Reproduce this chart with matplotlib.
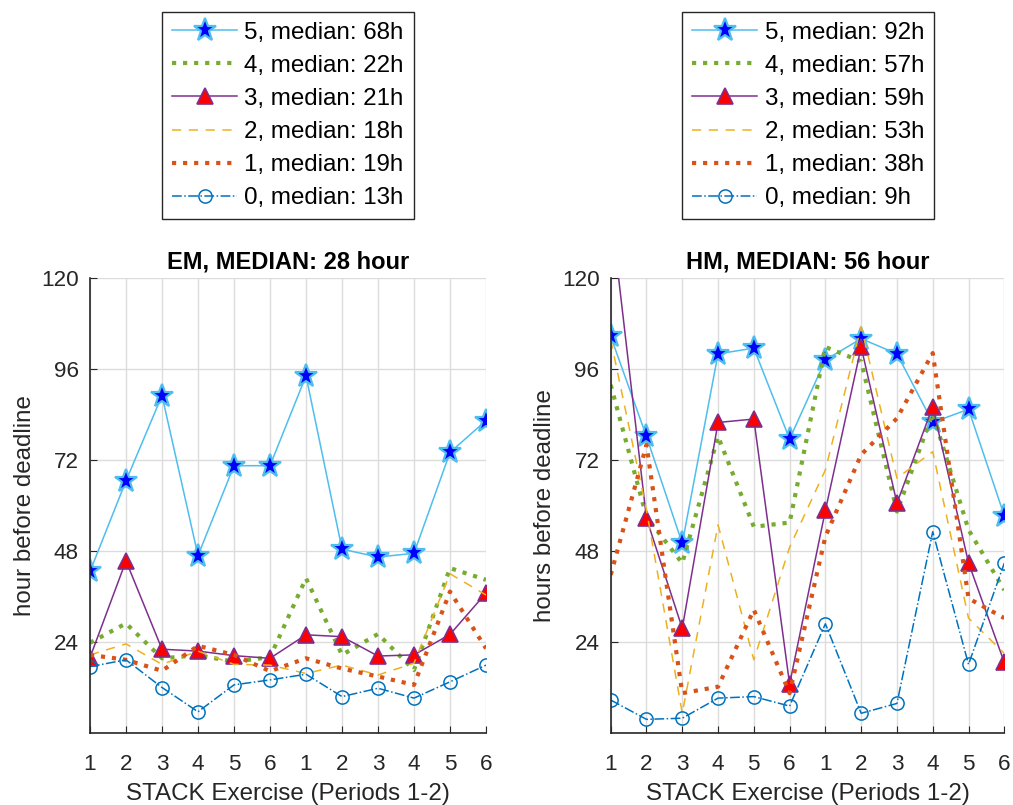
import matplotlib
matplotlib.use("Agg")
import matplotlib.pyplot as plt
import numpy as np

plt.rcParams['font.family'] = ['Liberation Sans', 'DejaVu Sans']

x_labels = ['1', '2', '3', '4', '5', '6', '1', '2', '3', '4', '5', '6']

# EM panel
em_5 = [42.6, 66.5, 89, 46.8, 70.5, 70.5, 94.2, 48.5, 46.4, 47.4, 74, 82.4]
em_4 = [23.8, 28.9, 19.7, 20.5, 18.8, 20, 40.8, 20.6, 26.1, 16.6, 43.5, 40.4]
em_3 = [19.9, 45.4, 22.1, 21.6, 20.4, 19.7, 25.9, 25.4, 20.3, 20.6, 26, 36.9]
em_2 = [20.6, 23.5, 18.1, 21.6, 18.1, 17.9, 15.7, 17.9, 15.3, 18.4, 42, 36.4]
em_1 = [20.6, 19.3, 16.4, 23, 20.6, 16.3, 19.7, 17, 14.9, 12.7, 37.3, 22.3]
em_0 = [17.5, 19.3, 12, 5.6, 12.7, 14, 15.5, 9.6, 11.8, 9.2, 13.5, 17.9]

# HM panel
hm_5 = [104.6, 78.2, 50, 100, 101.5, 77.5, 98.4, 104, 100, 81.9, 85.4, 57.3]
hm_4 = [91.8, 57, 44.8, 78.2, 54.4, 55.5, 101.8, 98, 58.4, 84.3, 53.6, 37.7]
hm_3 = [138, 56.6, 27.6, 81.9, 82.8, 12.9, 58.7, 101.8, 60.6, 86.1, 44.9, 18.6]
hm_2 = [103.7, 58.8, 5.2, 54.9, 19.3, 49, 69.4, 107.2, 67.2, 74.2, 30.3, 21]
hm_1 = [41.7, 76, 10.5, 12.2, 32.5, 10.5, 51.8, 73.4, 83, 100.2, 35.5, 30.3]
hm_0 = [8.7, 3.6, 3.9, 9.2, 9.6, 7.1, 28.8, 5.2, 7.8, 53.1, 18.1, 44.8]

em_medians = [68, 22, 21, 18, 19, 13]
hm_medians = [92, 57, 59, 53, 38, 9]
titles = ['EM, MEDIAN: 28 hour', 'HM, MEDIAN: 56 hour']
ylabels = ['hour before deadline', 'hours before deadline']
xlabel = 'STACK Exercise (Periods 1-2)'
group_names = ['5', '4', '3', '2', '1', '0']

c0 = '#0072BD'
c1 = '#D95319'
c2 = '#EDB120'
c3 = '#7E2F8E'
c4 = '#77AC30'
c5 = '#4DBEEE'

styles = [
    dict(color=c5, lw=1.1, ls='-', marker='*', ms=17, mfc='#0000FF', mec=c5, mew=1.6),
    dict(color=c4, lw=3.0, ls=':'),
    dict(color=c3, lw=1.1, ls='-', marker='^', ms=11.5, mfc='#FF0000', mec=c3, mew=1.2),
    dict(color=c2, lw=1.1, ls=(0, (6, 5))),
    dict(color=c1, lw=3.0, ls=':'),
    dict(color=c0, lw=1.1, ls='-.', marker='o', ms=9.5, mfc='none', mec=c0, mew=1.1),
]

fig = plt.figure(figsize=(10.13, 8.05), dpi=100)
W, H = 1013, 805
axes_px = [(90, 486), (610.7, 1004.3)]
top_px, bot_px = 278, 733
legend_centers = [288, 808]

x = np.arange(1, 13)
datasets = [
    [em_5, em_4, em_3, em_2, em_1, em_0],
    [hm_5, hm_4, hm_3, hm_2, hm_1, hm_0],
]
medians = [em_medians, hm_medians]

for k in range(2):
    l, r = axes_px[k]
    ax = fig.add_axes([l / W, 1 - bot_px / H, (r - l) / W, (bot_px - top_px) / H])
    handles = []
    for s, (series, st) in enumerate(zip(datasets[k], styles)):
        lab = f'{group_names[s]}, median: {medians[k][s]}h'
        h, = ax.plot(x, series, label=lab, **st)
        handles.append(h)
    ax.set_xlim(1, 12)
    ax.set_ylim(0, 120)
    ax.set_yticks([24, 48, 72, 96, 120])
    ax.set_xticks(x)
    ax.set_xticklabels(x_labels)
    ax.grid(True, color='#dcdcdc', lw=1.0)
    ax.set_axisbelow(True)
    for sp in ['top', 'right']:
        ax.spines[sp].set_visible(False)
    for sp in ['left', 'bottom']:
        ax.spines[sp].set_color('#262626')
        ax.spines[sp].set_linewidth(1.2)
    ax.tick_params(direction='in', length=5, labelsize=16.2, colors='#262626',
                   labelcolor='#262626')
    ax.tick_params(axis='x', pad=15)
    ax.tick_params(axis='y', pad=8)
    ax.set_title(titles[k], fontsize=17, fontweight='bold', pad=7)
    ax.set_xlabel(xlabel, fontsize=17.4, color='#262626', labelpad=6)
    ax.set_ylabel(ylabels[k], fontsize=17.4, color='#262626', labelpad=4)
    leg = fig.legend(handles=handles, loc='upper center',
                     bbox_to_anchor=(legend_centers[k] / W, 1 - 12 / H),
                     bbox_transform=fig.transFigure, fontsize=17.4,
                     handlelength=2.7, handletextpad=0.3, labelspacing=0.46,
                     borderpad=0.4, borderaxespad=0, fancybox=False,
                     framealpha=1, edgecolor='#262626')
    leg.get_frame().set_linewidth(1.0)

fig.savefig('out.png', dpi=100)
